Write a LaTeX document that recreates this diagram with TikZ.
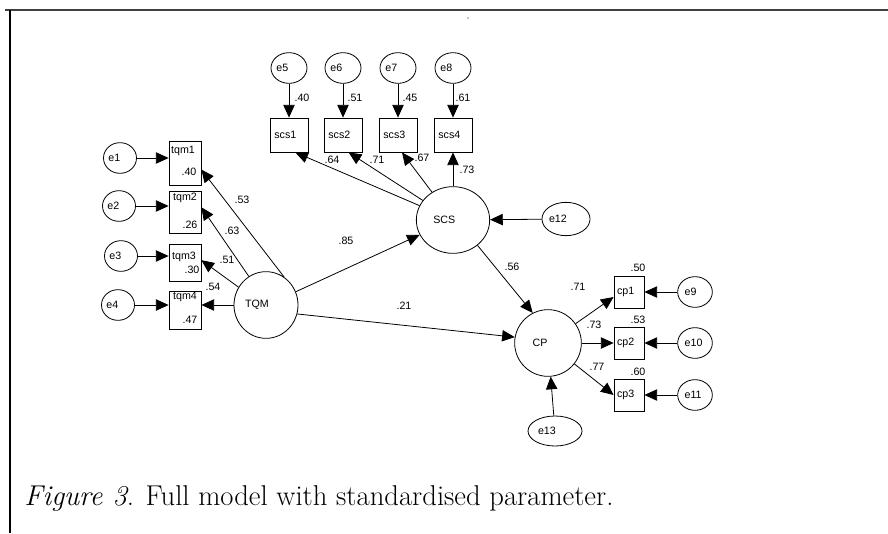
\documentclass[tikz,border=0pt]{standalone}
\usepackage{fontspec}
\newfontfamily\amosfont{Liberation Sans}
\usetikzlibrary{shapes,arrows.meta,positioning}

\begin{document}
\begin{tikzpicture}[x=0.75pt, y=-0.75pt, line width=0.6pt,
    amos/.style={font=\amosfont\fontsize{8}{9}\selectfont},
    obs/.style={rectangle, draw, inner sep=0pt, amos, align=left},
    lat/.style={ellipse, draw, inner sep=0pt, amos, align=left},
    err/.style={ellipse, draw, inner sep=0pt, amos, align=left, minimum width=24.75pt, minimum height=23pt, text width=17.5pt},
    lbl/.style={inner sep=0pt, amos},
    arr/.style={-{Triangle[length=9.5pt,width=8.5pt]}}]
    \useasboundingbox (0,0) rectangle (888,533);

    % frame
    \draw[line width=1.5pt, black!75] (5,10) -- (888,10);
    \draw[line width=0.9pt] (10,10) -- (10,533);
    \fill (468,18) circle (0.7);

    % latent variables
    \node (TQM) [lat, minimum width=48pt, minimum height=50pt, text width=31.5pt] at (266,305) {TQM};
    \node (SCS) [lat, minimum width=55pt, minimum height=50pt, text width=29.5pt] at (453,220) {SCS};
    \node (CP) [lat, minimum width=50pt, minimum height=50pt, text width=23pt] at (548,343) {CP};

    % tqm indicators
    \node (tqm1) [obs, minimum width=24pt, minimum height=33pt] at (185,163) {};
    \node (tqm2) [obs, minimum width=24pt, minimum height=31.5pt] at (185,212) {};
    \node (tqm3) [obs, minimum width=24pt, minimum height=27.75pt] at (185,262.5) {};
    \node (tqm4) [obs, minimum width=24pt, minimum height=28.5pt] at (185,310) {};
    \node[lbl] at (183,151) {tqm1};
    \node[lbl] at (189,172) {.40};
    \node[lbl] at (185,198) {tqm2};
    \node[lbl] at (190,225) {.26};
    \node[lbl] at (184,257) {tqm3};
    \node[lbl] at (192,270) {.30};
    \node[lbl] at (185,297) {tqm4};
    \node[lbl] at (190,320) {.47};

    \node (e1) [err] at (120,158) {e1};
    \node (e2) [err] at (119,206) {e2};
    \node (e3) [err] at (121,256) {e3};
    \node (e4) [err] at (118,305) {e4};

    % scs indicators
    \node (scs1) [obs, minimum width=28.5pt, minimum height=25.5pt, text width=22pt] at (289,135) {scs1};
    \node (scs2) [obs, minimum width=28.5pt, minimum height=25.5pt, text width=22pt] at (343,135) {scs2};
    \node (scs3) [obs, minimum width=28.5pt, minimum height=25.5pt, text width=22pt] at (398,135) {scs3};
    \node (scs4) [obs, minimum width=28.5pt, minimum height=25.5pt, text width=22pt] at (453,135) {scs4};

    \node (e5) [err, minimum width=27pt, text width=19pt] at (289,68) {e5};
    \node (e6) [err, minimum width=27pt, text width=19pt] at (343,68) {e6};
    \node (e7) [err, minimum width=27pt, text width=19pt] at (398,68) {e7};
    \node (e8) [err, minimum width=27pt, text width=19pt] at (453,68) {e8};

    % cp indicators
    \node (cp1) [obs, minimum width=22.5pt, minimum height=24pt, text width=18pt] at (629,292) {cp1};
    \node (cp2) [obs, minimum width=22.5pt, minimum height=24pt, text width=18pt] at (629,343) {cp2};
    \node (cp3) [obs, minimum width=22.5pt, minimum height=24pt, text width=18pt] at (629,395) {cp3};
    \node[lbl] at (638,268) {.50};
    \node[lbl] at (638,320) {.53};
    \node[lbl] at (638,372) {.60};

    \node (e9) [err, minimum width=26pt, text width=15.5pt] at (695,292) {e9};
    \node (e10) [err, minimum width=26pt, text width=15.5pt] at (695,343) {e10};
    \node (e11) [err, minimum width=26pt, text width=15.5pt] at (695,395) {e11};

    % disturbances
    \node (e12) [err, minimum width=36pt, minimum height=25pt, text width=25.5pt] at (566,219) {e12};
    \node (e13) [err, minimum width=40.5pt, minimum height=22.5pt, text width=25.5pt] at (555,431) {e13};

    % measurement paths
    \draw[arr] (e1) -- (e1 -| tqm1.west);
    \draw[arr] (e2) -- (e2 -| tqm2.west);
    \draw[arr] (e3) -- (e3 -| tqm3.west);
    \draw[arr] (e4) -- (e4 -| tqm4.west);
    \draw[arr] (TQM.57) -- (tqm1.-22);
    \draw[arr] (TQM.121) -- (tqm2.16);
    \draw[arr] (TQM.147) -- (tqm3.8);
    \draw[arr] (TQM.west) -- (TQM.west -| tqm4.east);

    \draw[arr] (e5) -- (scs1);
    \draw[arr] (e6) -- (scs2);
    \draw[arr] (e7) -- (scs3);
    \draw[arr] (e8) -- (scs4);
    \draw[arr] (SCS) -- (scs1.-70);
    \draw[arr] (SCS) -- (scs2.-72);
    \draw[arr] (SCS) -- (scs3.-77);
    \draw[arr] (SCS) -- (scs4);

    \draw[arr] (CP) -- (cp1.198);
    \draw[arr] (CP) -- (cp2);
    \draw[arr] (CP) -- (cp3.west);
    \draw[arr] (e9) -- (cp1);
    \draw[arr] (e10) -- (cp2);
    \draw[arr] (e11) -- (cp3);

    % structural paths
    \draw[arr] (TQM.24) -- (SCS.204);
    \draw[arr] (TQM.-16) -- (CP.170);
    \draw[arr] (SCS.-46) -- (CP.117);
    \draw[arr] (e12) -- (SCS);
    \draw[arr] (e13) -- (CP);

    % coefficients
    \node[lbl] at (242,200) {.53};
    \node[lbl] at (232,231) {.63};
    \node[lbl] at (227,260) {.51};
    \node[lbl] at (213,287) {.54};
    \node[lbl] at (302,98) {.40};
    \node[lbl] at (355,98) {.51};
    \node[lbl] at (410,98) {.45};
    \node[lbl] at (463,98) {.61};
    \node[lbl] at (332,160) {.64};
    \node[lbl] at (377,160) {.71};
    \node[lbl] at (422,158) {.67};
    \node[lbl] at (467,170) {.73};
    \node[lbl] at (346,241) {.85};
    \node[lbl] at (404,306) {.21};
    \node[lbl] at (512,267) {.56};
    \node[lbl] at (578,287) {.71};
    \node[lbl] at (594,325) {.73};
    \node[lbl] at (597,367) {.77};

    % caption
    \node (caption) [anchor=base west, inner sep=0pt, font=\fontsize{21.5}{26}\selectfont] at (24,505) {\textit{Figure 3}. Full model with standardised parameter.};
\end{tikzpicture}
\end{document}
